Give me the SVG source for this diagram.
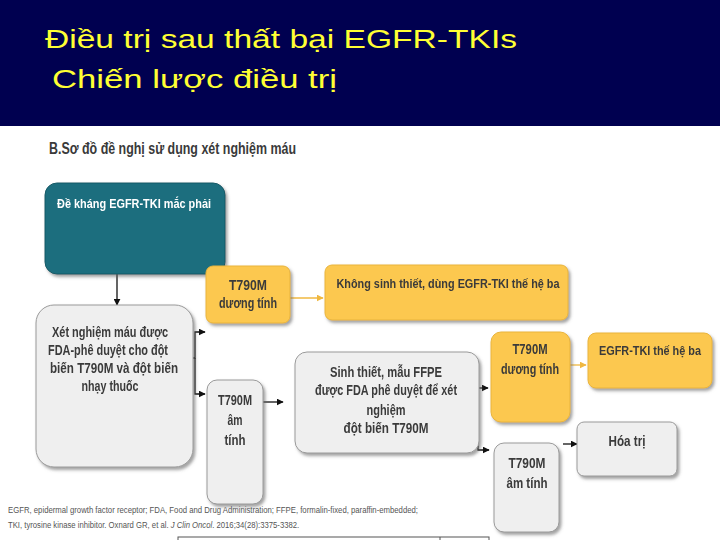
<svg xmlns="http://www.w3.org/2000/svg" width="720" height="540" viewBox="0 0 720 540">
<defs>
<style>
.title{font-family:"Liberation Sans",Arial,sans-serif;font-size:26px;fill:#ffff33}
.sub{font-family:"Liberation Sans",Arial,sans-serif;font-size:16px;font-weight:bold;fill:#3a3a3a}
.bt{font-family:"Liberation Sans",Arial,sans-serif;font-size:15px;font-weight:bold;fill:#3a3a3a;text-anchor:middle}
.sm{font-size:13px}
.wt{font-family:"Liberation Sans",Arial,sans-serif;font-size:13px;font-weight:bold;fill:#ffffff;text-anchor:middle}
.fn{font-family:"Liberation Sans",Arial,sans-serif;font-size:9.5px;fill:#555555}
.gray{fill:#efefef;stroke:#9a9a9a;stroke-width:1}
.yel{fill:#fcc84f;stroke:#e9b43c;stroke-width:1}
.teal{fill:#1d6e7e;stroke:#175a67;stroke-width:1}
.k{fill:none;stroke:#111;stroke-width:1.3}
.y{fill:none;stroke:#f0b840;stroke-width:1.3}
</style>
<filter id="sh" x="-10%" y="-10%" width="130%" height="130%">
<feDropShadow dx="2" dy="2.5" stdDeviation="1.5" flood-color="#666" flood-opacity="0.6"/>
</filter>
<marker id="ak" viewBox="0 0 10 10" refX="9" refY="5" markerWidth="7" markerHeight="7" markerUnits="userSpaceOnUse" orient="auto">
<path d="M0,0 L10,5 L0,10 z" fill="#111"/>
</marker>
<marker id="ay" viewBox="0 0 10 10" refX="9" refY="5" markerWidth="7" markerHeight="7" markerUnits="userSpaceOnUse" orient="auto">
<path d="M0,0 L10,5 L0,10 z" fill="#f0b840"/>
</marker>
</defs>

<rect x="0" y="0" width="720" height="540" fill="#ffffff"/>
<g id="header">
<rect x="0" y="0" width="720" height="126" fill="#000050"/>
<text class="title" x="45" y="48" textLength="472" lengthAdjust="spacingAndGlyphs">Điều trị sau thất bại EGFR-TKIs</text>
<text class="title" x="52" y="88" textLength="285" lengthAdjust="spacingAndGlyphs">Chiến lược điều trị</text>
</g>

<text class="sub" x="49" y="154" textLength="247" lengthAdjust="spacingAndGlyphs">B.Sơ đồ đề nghị sử dụng xét nghiệm máu</text>

<g id="connectors">
<line class="k" x1="117" y1="256" x2="117" y2="305" marker-end="url(#ak)"/>
<path class="k" d="M193,358 H195 V332 H205" marker-end="url(#ak)"/>
<path class="k" d="M195,358 V394 H205" marker-end="url(#ak)"/>
<line class="y" x1="290" y1="298" x2="323" y2="298" marker-end="url(#ay)"/>
<line class="k" x1="263" y1="402" x2="283" y2="402" marker-end="url(#ak)"/>
<line class="k" x1="479" y1="388" x2="488" y2="388" marker-end="url(#ak)"/>
<path class="k" d="M478,441 V450 H489" marker-end="url(#ak)"/>
<line class="y" x1="570" y1="365" x2="586" y2="365" marker-end="url(#ay)"/>
<line class="k" x1="563" y1="444" x2="577" y2="444" marker-end="url(#ak)"/>
</g>

<g id="n-resist" filter="url(#sh)">
<rect class="teal" x="45" y="183" width="180" height="91" rx="12"/>
<text class="wt" x="134" y="208" textLength="154" lengthAdjust="spacingAndGlyphs">Đề kháng EGFR-TKI mắc phải</text>
</g>

<g id="n-blood" filter="url(#sh)">
<rect class="gray" x="36" y="305" width="157" height="162" rx="18"/>
<text class="bt" x="110" y="337" textLength="116" lengthAdjust="spacingAndGlyphs">Xét nghiệm máu được</text>
<text class="bt" x="108" y="355" textLength="120" lengthAdjust="spacingAndGlyphs">FDA-phê duyệt cho đột</text>
<text class="bt" x="114" y="373" textLength="128" lengthAdjust="spacingAndGlyphs">biến T790M và đột biến</text>
<text class="bt" x="110" y="391" textLength="57" lengthAdjust="spacingAndGlyphs">nhạy thuốc</text>
</g>

<g id="n-pos1" filter="url(#sh)">
<rect class="yel" x="206" y="266" width="84" height="57" rx="7"/>
<text class="bt" x="248" y="290" textLength="38" lengthAdjust="spacingAndGlyphs">T790M</text>
<text class="bt" x="248" y="308" textLength="58" lengthAdjust="spacingAndGlyphs">dương tính</text>
</g>

<g id="n-nobiopsy" filter="url(#sh)">
<rect class="yel" x="325" y="265" width="243" height="55" rx="7"/>
<text class="bt sm" x="448" y="288" textLength="223" lengthAdjust="spacingAndGlyphs">Không sinh thiết, dùng EGFR-TKI thế hệ ba</text>
</g>

<g id="n-neg1" filter="url(#sh)">
<rect class="gray" x="207" y="380" width="56" height="124" rx="10"/>
<text class="bt" x="235" y="405" textLength="34" lengthAdjust="spacingAndGlyphs">T790M</text>
<text class="bt" x="235" y="425" textLength="15" lengthAdjust="spacingAndGlyphs">âm</text>
<text class="bt" x="235" y="445" textLength="21" lengthAdjust="spacingAndGlyphs">tính</text>
</g>

<g id="n-biopsy" filter="url(#sh)">
<rect class="gray" x="295" y="352" width="184" height="101" rx="12"/>
<text class="bt" x="386" y="377" textLength="112" lengthAdjust="spacingAndGlyphs">Sinh thiết, mẫu FFPE</text>
<text class="bt" x="386" y="395" textLength="142" lengthAdjust="spacingAndGlyphs">được FDA phê duyệt để xét</text>
<text class="bt" x="386" y="415" textLength="39" lengthAdjust="spacingAndGlyphs">nghiệm</text>
<text class="bt" x="386" y="433" textLength="85" lengthAdjust="spacingAndGlyphs">đột biến T790M</text>
</g>

<g id="n-pos2" filter="url(#sh)">
<rect class="yel" x="491" y="332" width="79" height="90" rx="10"/>
<text class="bt" x="530" y="354" textLength="35" lengthAdjust="spacingAndGlyphs">T790M</text>
<text class="bt" x="530" y="374" textLength="58" lengthAdjust="spacingAndGlyphs">dương tính</text>
</g>

<g id="n-tki3" filter="url(#sh)">
<rect class="yel" x="588" y="333" width="124" height="55" rx="8"/>
<text class="bt sm" x="650" y="355" textLength="102" lengthAdjust="spacingAndGlyphs">EGFR-TKI thế hệ ba</text>
</g>

<g id="n-neg2" filter="url(#sh)">
<rect class="gray" x="494" y="443" width="65" height="89" rx="10"/>
<text class="bt" x="527" y="468" textLength="37" lengthAdjust="spacingAndGlyphs">T790M</text>
<text class="bt" x="527" y="488" textLength="41" lengthAdjust="spacingAndGlyphs">âm tính</text>
</g>

<g id="n-chemo" filter="url(#sh)">
<rect class="gray" x="577" y="422" width="100" height="54" rx="7"/>
<text class="bt" x="627" y="446" textLength="37" lengthAdjust="spacingAndGlyphs">Hóa trị</text>
</g>

<g id="footnote">
<text class="fn" x="8" y="513" textLength="410" lengthAdjust="spacingAndGlyphs">EGFR, epidermal growth factor receptor; FDA, Food and Drug Administration; FFPE, formalin-fixed, paraffin-embedded;</text>
<text class="fn" transform="translate(8,528) scale(0.812,1)">TKI, tyrosine kinase inhibitor. Oxnard GR, et al. <tspan font-style="italic">J Clin Oncol</tspan>. 2016;34(28):3375-3382.</text>
</g>

<g id="bottom-box">
<rect x="178" y="537" width="311" height="20" fill="#ffffff" stroke="#555" stroke-width="1"/>
<line x1="440" y1="537" x2="440" y2="540" stroke="#555" stroke-width="1"/>
</g>
</svg>
